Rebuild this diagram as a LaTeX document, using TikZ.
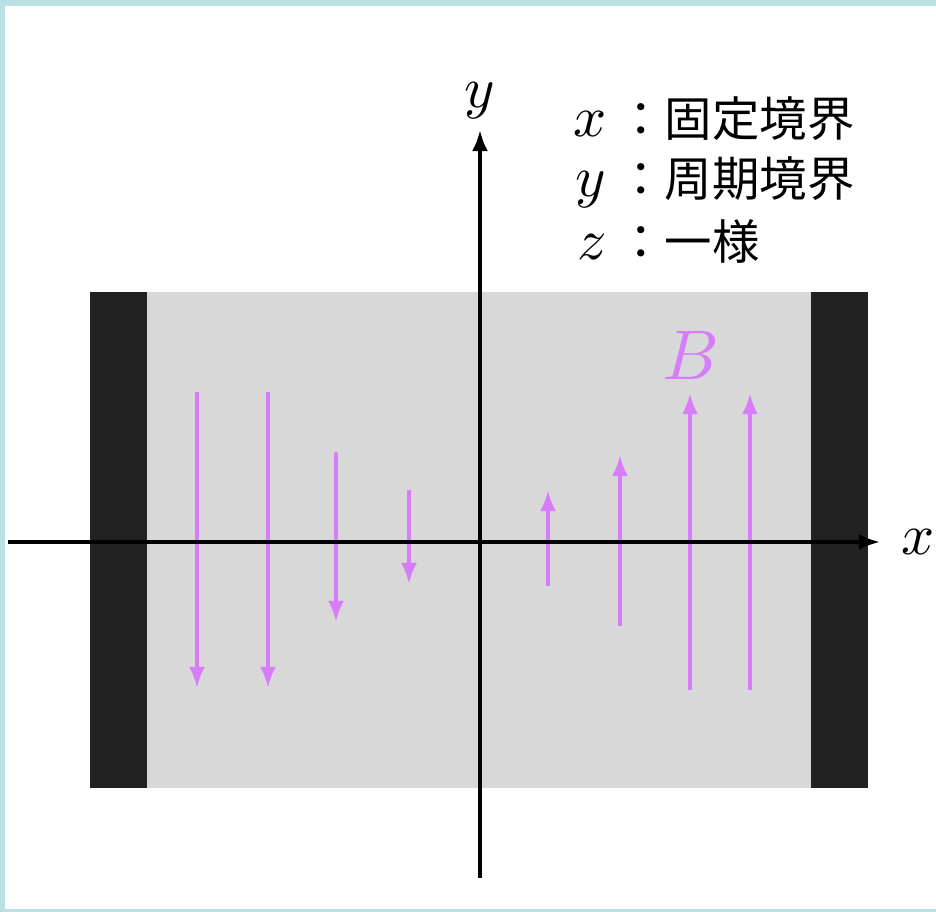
\documentclass[tikz,border=0pt]{standalone}
\usepackage{fontspec}
\usepackage{unicode-math}
\setmathfont{Latin Modern Math}
\newfontfamily\cjk{Noto Sans CJK JP}
\usetikzlibrary{arrows.meta}
\definecolor{bfield}{RGB}{215,125,250}
\definecolor{frame}{RGB}{187,224,228}
\definecolor{slab}{RGB}{216,216,216}
\definecolor{wall}{RGB}{34,34,34}
\newcommand\varsize{\fontsize{33}{36}\selectfont}
\tikzset{
  axis/.style={->,line width=1.9pt,black},
  field/.style={->,line width=2.1pt,bfield},
  legvar/.style={anchor=base west,inner sep=0pt,font=\varsize},
  legtext/.style={anchor=base west,inner sep=0pt,font=\cjk\fontsize{27}{30}\selectfont}
}
\begin{document}
\begin{tikzpicture}[>={Latex[length=12pt,width=9pt]}]
  % page and its frame
  \useasboundingbox (-9.6,-7.4) rectangle (9.12,10.84);
  \fill[white] (-9.6,-7.4) rectangle (9.12,10.84);
  \fill[frame] (-9.6,10.72) rectangle (9.12,10.84);
  \fill[frame] (-9.6,-7.4) rectangle (-9.5,10.84);
  \fill[frame] (-9.6,-7.4) rectangle (9.12,-7.34);
  % slab between the two walls
  \fill[slab] (-7.8,-4.92) rectangle (7.76,5.0);
  \fill[wall] (-7.8,-4.92) rectangle (-6.66,5.0);
  \fill[wall] (6.62,-4.92) rectangle (7.76,5.0);
  % field arrows
  \foreach \x/\ya/\yb in {-5.66/3.0/-2.92,-4.24/3.0/-2.92,-2.88/1.8/-1.6,-1.42/1.04/-0.84,
                          1.36/-0.88/1.04,2.8/-1.68/1.74,4.2/-2.96/2.98,5.4/-2.96/2.98}
    \draw[field] (\x,\ya)--(\x,\yb);
  \node[bfield,font=\fontsize{40}{44}\selectfont] (blab) at (4.2,3.74) {$B$};
  % axes
  \draw[axis] (-9.44,0)--(8.0,0) node[right=8pt,font=\varsize] (xlab) {$x$};
  \draw[axis] (0,-6.72)--(0,8.24) node[above=2pt,font=\varsize] (ylab) {$y$};
  % boundary conditions
  \node[legvar] (legx) at (1.86,8.1) {$x$};
  \node[legvar] (legy) at (1.9,6.9) {$y$};
  \node[legvar] (legz) at (1.94,5.64) {$z$};
  \node[legtext] (legxt) at (2.74,8.1) {：固定境界};
  \node[legtext] (legyt) at (2.74,6.9) {：周期境界};
  \node[legtext] (legzt) at (2.74,5.64) {：一様};
\end{tikzpicture}
\end{document}
